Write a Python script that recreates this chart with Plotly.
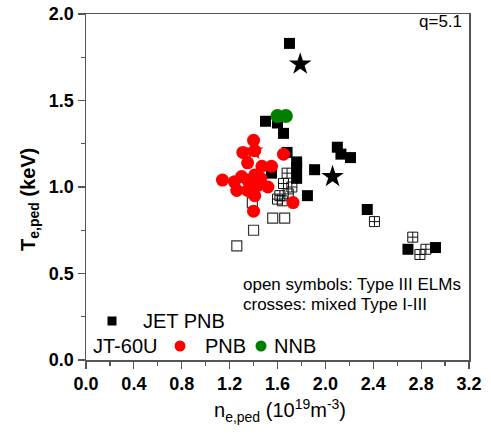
import plotly.graph_objects as go

# JET PNB, Type I ELMs (filled squares)
jet_I_n = [1.70, 1.50, 1.60, 1.65, 1.68, 1.76, 1.76, 1.76, 1.55, 1.91, 1.85, 2.10, 2.13, 2.21, 2.35, 2.69, 2.92]
jet_I_T = [1.83, 1.38, 1.37, 1.31, 1.20, 1.145, 1.11, 1.05, 1.08, 1.10, 0.95, 1.23, 1.19, 1.17, 0.87, 0.64, 0.65]

# JET PNB, Type III ELMs (open squares)
jet_III_n = [1.39, 1.56, 1.66, 1.40, 1.26]
jet_III_T = [0.91, 0.82, 0.82, 0.75, 0.66]

# JET PNB, mixed Type I-III (crossed squares)
jet_mix_n = [1.68, 1.65, 1.72, 1.62, 1.69, 1.64, 1.60, 2.41, 2.73, 2.79, 2.84]
jet_mix_T = [1.08, 1.02, 1.00, 0.95, 0.96, 0.92, 0.93, 0.80, 0.71, 0.61, 0.64]

# stars
star_n = [1.79, 2.06]
star_T = [1.71, 1.06]
star_red_n = [1.40]
star_red_T = [1.21]

# JT-60U PNB (red circles)
pnb_n = [1.31, 1.40, 1.41, 1.35, 1.47, 1.55, 1.65, 1.14, 1.24, 1.35, 1.41, 1.44, 1.26, 1.35, 1.52, 1.41, 1.73, 1.40, 1.38, 1.46, 1.30]
pnb_T = [1.20, 1.27, 1.21, 1.14, 1.12, 1.12, 1.19, 1.04, 1.03, 1.04, 1.07, 1.01, 0.98, 0.98, 1.00, 0.95, 0.91, 0.86, 1.00, 1.05, 1.06]

# JT-60U NNB (green circles)
nnb_n = [1.60, 1.67]
nnb_T = [1.41, 1.41]

xticks = [0.0, 0.4, 0.8, 1.2, 1.6, 2.0, 2.4, 2.8, 3.2]
yticks = [0.0, 0.5, 1.0, 1.5, 2.0]

FONT = "Liberation Sans"

fig = go.Figure()
fig.add_trace(go.Scatter(x=jet_III_n, y=jet_III_T, mode="markers",
                         marker=dict(symbol="square-open", size=10, color="#333", line=dict(width=1.2))))
fig.add_trace(go.Scatter(x=jet_mix_n, y=jet_mix_T, mode="markers",
                         marker=dict(symbol="square-cross-open", size=10, color="#111", line=dict(width=1))))
fig.add_trace(go.Scatter(x=jet_I_n, y=jet_I_T, mode="markers",
                         marker=dict(symbol="square", size=11, color="black")))
fig.add_trace(go.Scatter(x=star_n, y=star_T, mode="markers",
                         marker=dict(symbol="star", size=17, color="black")))
fig.add_trace(go.Scatter(x=star_red_n, y=star_red_T, mode="markers",
                         marker=dict(symbol="star", size=15, color="red")))
fig.add_trace(go.Scatter(x=pnb_n, y=pnb_T, mode="markers",
                         marker=dict(symbol="circle", size=13, color="red")))
fig.add_trace(go.Scatter(x=nnb_n, y=nnb_T, mode="markers",
                         marker=dict(symbol="circle", size=14, color="green")))

axis_common = dict(showgrid=False, zeroline=False, showline=True, linecolor="#555", linewidth=1.5,
                   mirror=True, ticks="outside", ticklen=7, tickcolor="#555", tickwidth=1.2,
                   tickfont=dict(family=FONT, size=18, color="black", weight="bold"),
                   tickformat=".1f", automargin=False, ticklabeloverflow="allow")

fig.update_xaxes(range=[0, 3.2], tickvals=xticks, **axis_common,
                 minor=dict(ticks="outside", ticklen=4, dtick=0.2, tickcolor="#555"))
fig.update_yaxes(range=[0, 2.0], tickvals=yticks, **axis_common,
                 minor=dict(ticks="outside", ticklen=4, dtick=0.25, tickcolor="#555"))

W, H = 491, 434
# plot-area edges in page pixels
PL, PR, PT, PB = 86, 469, 14, 360
L, R, T, B = PL, W - PR, PT, H - PB
pw, ph = PR - PL, PB - PT

def px(x):
    return (x - PL) / pw

def py(y):
    return (PB - y) / ph

font_txt = dict(family=FONT, size=17, color="black")
font_leg = dict(family=FONT, size=20, color="black")
ann = [
    dict(text="q=5.1", x=px(464), y=py(22), xanchor="right", yanchor="middle", font=font_txt),
    dict(text="open symbols: Type III ELMs", x=px(241), y=py(284), xanchor="left", yanchor="middle", font=font_txt),
    dict(text="crosses: mixed Type I-III", x=px(241), y=py(304), xanchor="left", yanchor="middle", font=font_txt),
    dict(text="JET PNB", x=px(141), y=py(321), xanchor="left", yanchor="middle", font=font_leg),
    dict(text="JT-60U", x=px(91), y=py(346), xanchor="left", yanchor="middle", font=font_leg),
    dict(text="PNB", x=px(203), y=py(346), xanchor="left", yanchor="middle", font=font_leg),
    dict(text="NNB", x=px(272), y=py(346), xanchor="left", yanchor="middle", font=font_leg),
    dict(text="n<sub>e,ped</sub> (10<sup>19</sup>m<sup>-3</sup>)", x=px(280), y=py(410),
         xanchor="center", yanchor="middle", font=dict(family=FONT, size=20, color="black")),
    dict(text="<b>T<sub>e,ped</sub> (keV)</b>", x=px(29), y=py(200), textangle=-90,
         xanchor="center", yanchor="middle", font=dict(family=FONT, size=20, color="black")),
]
for a in ann:
    a.update(xref="paper", yref="paper", showarrow=False)

shapes = [
    dict(type="rect", x0=px(107.5), x1=px(116.5), y0=py(325.5), y1=py(316.5), fillcolor="black", line=dict(width=0)),
    dict(type="circle", x0=px(174.5), x1=px(185.5), y0=py(351.5), y1=py(340.5), fillcolor="red", line=dict(width=0)),
    dict(type="circle", x0=px(255.5), x1=px(266.5), y0=py(351.5), y1=py(340.5), fillcolor="green", line=dict(width=0)),
]
for s in shapes:
    s.update(xref="paper", yref="paper")

fig.update_layout(width=W, height=H, margin=dict(l=L, r=R, t=T, b=B, autoexpand=False),
                  plot_bgcolor="white", paper_bgcolor="white", showlegend=False,
                  annotations=ann, shapes=shapes, hovermode=False)

fig.write_html("out.html", config={"displayModeBar": False, "staticPlot": True},
               post_script="document.body.style.margin='0';document.body.style.overflow='hidden';")
